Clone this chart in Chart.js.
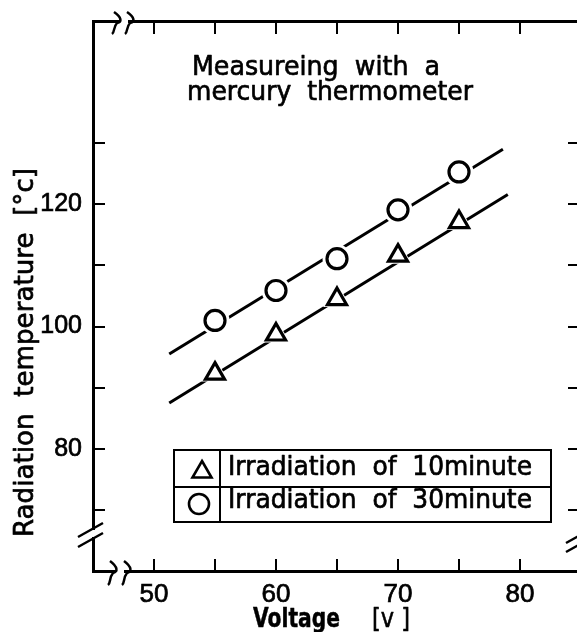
<!DOCTYPE html>
<html><head><meta charset="utf-8">
<script src="https://cdn.jsdelivr.net/npm/chart.js@4/dist/chart.umd.min.js"></script>
<style>
html,body{margin:0;padding:0;background:#fff;overflow:hidden;width:577px;height:632px}
#wrap{width:590px;height:632px;}
canvas{display:block}
</style></head><body><div id="wrap"><canvas id="c" width="590" height="632"></canvas></div>
<script>
// ---- data ----
const voltages = [55, 60, 65, 70, 75];
const temp10min = [92.3, 98.7, 104.5, 111.6, 117.1];
const temp30min = [101.0, 105.9, 111.1, 119.1, 125.3];
const fit10minX = [51.25, 79.0];
const fit10minY = [87.5, 121.6];
const fit30minX = [51.25, 78.6];
const fit30minY = [95.5, 129.0];
const xTickLabels = [50, 60, 70, 80];
const yTickLabels = [80, 100, 120];
const xTickMarks = [50, 55, 60, 65, 70, 75, 80];
const yTickMarks = [70, 80, 90, 100, 110, 120, 130];
const seriesLabels = ['Irradiation  of  10minute', 'Irradiation  of  30minute'];
const titleLines = ['Measureing  with  a', 'mercury  thermometer'];
const xTitle = 'Voltage';
const xUnit = '[v ]';
const yTitle = 'Radiation  temperature  [°c]';

const pts = (xs, ys) => xs.map((x, i) => ({x: x, y: ys[i]}));
const BLACK = '#000';
const TXT = '"DejaVu Sans", sans-serif';

function fitText(ctx, text, left, baseline, width, font, stroke) {
  ctx.save();
  ctx.font = font;
  const w = ctx.measureText(text).width;
  ctx.translate(left, baseline);
  ctx.scale(width / w, 1);
  ctx.textAlign = 'left';
  ctx.textBaseline = 'alphabetic';
  ctx.fillStyle = BLACK;
  ctx.fillText(text, 0, 0);
  if (stroke) {
    ctx.strokeStyle = BLACK;
    ctx.lineWidth = stroke;
    ctx.lineJoin = 'round';
    ctx.strokeText(text, 0, 0);
  }
  ctx.restore();
}

function squiggle(ctx, x, y, h) {
  ctx.beginPath();
  ctx.moveTo(x - 3, y - h);
  ctx.bezierCurveTo(x + 5, y - h * 0.5, x + 5, y - h * 0.1, x, y);
  ctx.bezierCurveTo(x - 4, y + h * 0.4, x - 2, y + h * 0.8, x - 5, y + h);
  ctx.stroke();
}

const decor = {
  id: 'decor',
  afterDatasetsDraw(chart) {
    const ctx = chart.ctx;
    const xs = chart.scales.x, ys = chart.scales.y;
    const a = chart.chartArea;
    ctx.save();
    ctx.strokeStyle = BLACK;
    ctx.lineCap = 'butt';
    // inward ticks
    ctx.lineWidth = 2;
    ctx.beginPath();
    xTickMarks.forEach(v => {
      const px = Math.round(xs.getPixelForValue(v));
      ctx.moveTo(px, a.bottom); ctx.lineTo(px, a.bottom - 12);
      ctx.moveTo(px, a.top); ctx.lineTo(px, a.top + 13);
    });
    yTickMarks.forEach(v => {
      const py = Math.round(ys.getPixelForValue(v));
      ctx.moveTo(a.left, py); ctx.lineTo(a.left + 12, py);
      ctx.moveTo(a.right, py); ctx.lineTo(a.right - 13, py);
    });
    ctx.stroke();

    // axis breaks
    ctx.fillStyle = '#fff';
    ctx.fillRect(119, a.top - 3, 9, 6);
    ctx.fillRect(115, a.bottom - 3, 9, 6);
    ctx.fillRect(a.left - 3, 530, 6, 7);
    ctx.lineWidth = 2.5;
    squiggle(ctx, 117, a.top + 2, 11);
    squiggle(ctx, 130, a.top + 2, 11);
    squiggle(ctx, 113, a.bottom + 2, 12);
    squiggle(ctx, 127, a.bottom + 2, 12);
    ctx.beginPath();
    ctx.moveTo(78, 537); ctx.lineTo(103, 523);
    ctx.moveTo(78, 547); ctx.lineTo(103, 533);
    ctx.moveTo(566, 543); ctx.lineTo(584, 533);
    ctx.moveTo(566, 552); ctx.lineTo(584, 542);
    ctx.stroke();

    // title text
    fitText(ctx, titleLines[0], 192, 75, 248, '27px ' + TXT, 0.7);
    fitText(ctx, titleLines[1], 187, 100, 286, '27px ' + TXT, 0.7);

    // legend table
    ctx.lineWidth = 2;
    ctx.strokeRect(174, 450, 377, 72);
    ctx.beginPath();
    ctx.moveTo(174, 487); ctx.lineTo(551, 487);
    ctx.moveTo(220, 450); ctx.lineTo(220, 522);
    ctx.stroke();
    ctx.lineWidth = 2.6;
    const tr = 11, tcx = 202, tcy = 472;
    ctx.beginPath();
    ctx.moveTo(tcx, tcy - tr);
    ctx.lineTo(tcx + tr * Math.cos(Math.PI / 6), tcy + tr / 2);
    ctx.lineTo(tcx - tr * Math.cos(Math.PI / 6), tcy + tr / 2);
    ctx.closePath();
    ctx.stroke();
    ctx.beginPath();
    ctx.arc(199, 504, 10, 0, Math.PI * 2);
    ctx.stroke();
    fitText(ctx, seriesLabels[0], 228, 475, 304, '27px ' + TXT, 0.7);
    fitText(ctx, seriesLabels[1], 228, 508, 304, '27px ' + TXT, 0.7);

    // axis titles
    fitText(ctx, xTitle, 253, 627, 87, 'bold 26px ' + TXT, 0.5);
    fitText(ctx, xUnit, 372, 627, 38, '26px ' + TXT, 0.6);
    ctx.save();
    ctx.translate(33, 537);
    ctx.rotate(-Math.PI / 2);
    fitText(ctx, yTitle, 0, 0, 369, '27px ' + TXT, 0.7);
    ctx.restore();
    ctx.restore();
  }
};

const axisCommon = {
  grid: {display: false, drawTicks: false, tickLength: 0},
  border: {display: true, color: BLACK, width: 3}
};
const noPad = s => { s.paddingTop = 0; s.paddingBottom = 0; s.paddingLeft = 0; s.paddingRight = 0; };
const tickFont = size => ({family: '"Liberation Sans", sans-serif', size: size});

new Chart(document.getElementById('c'), {
  type: 'scatter',
  data: {
    datasets: [
      {label: 'fit30', data: pts(fit30minX, fit30minY), showLine: true, pointRadius: 0,
       borderColor: BLACK, borderWidth: 3, order: 3},
      {label: 'fit10', data: pts(fit10minX, fit10minY), showLine: true, pointRadius: 0,
       borderColor: BLACK, borderWidth: 3, order: 3},
      {label: 'halo30', data: pts(voltages, temp30min), pointStyle: 'circle', pointRadius: 14.5,
       backgroundColor: '#fff', borderWidth: 0, borderColor: '#fff', order: 2},
      {label: 'halo10', data: pts(voltages, temp10min), pointStyle: 'triangle', pointRadius: 16,
       backgroundColor: '#fff', borderWidth: 0, borderColor: '#fff', order: 2},
      {label: seriesLabels[1], data: pts(voltages, temp30min), pointStyle: 'circle', pointRadius: 10,
       backgroundColor: '#fff', borderColor: BLACK, borderWidth: 3.2, order: 0},
      {label: seriesLabels[0], data: pts(voltages, temp10min), pointStyle: 'triangle', pointRadius: 11,
       backgroundColor: '#fff', borderColor: BLACK, borderWidth: 3.2, order: 0}
    ]
  },
  options: {
    responsive: false,
    animation: false,
    devicePixelRatio: 1,
    layout: {padding: 0, autoPadding: false},
    plugins: {legend: {display: false}, tooltip: {enabled: false}},
    scales: {
      x: Object.assign({}, axisCommon, {
        type: 'linear', position: 'bottom', min: 45, max: 85,
        ticks: {stepSize: 5, autoSkip: false, maxRotation: 0, color: BLACK, padding: 8,
          textStrokeColor: BLACK, textStrokeWidth: 0.7, font: tickFont(26),
          callback: v => xTickLabels.includes(v) ? String(v) : null},
        afterFit: s => { s.height = 61; noPad(s); }
      }),
      xTop: Object.assign({}, axisCommon, {
        type: 'linear', position: 'top', min: 45, max: 85,
        ticks: {display: false},
        afterFit: s => { s.height = 21; noPad(s); }
      }),
      y: Object.assign({}, axisCommon, {
        type: 'linear', position: 'left', min: 60, max: 150,
        ticks: {stepSize: 10, autoSkip: false, color: BLACK, padding: 11,
          textStrokeColor: BLACK, textStrokeWidth: 0.7, font: tickFont(25),
          callback: v => yTickLabels.includes(v) ? String(v) : null},
        afterFit: s => { s.width = 93; noPad(s); }
      }),
      yRight: {
        type: 'linear', position: 'right', min: 60, max: 150,
        grid: {display: false, drawTicks: false, tickLength: 0},
        border: {display: false},
        ticks: {display: false},
        afterFit: s => { s.width = 9; noPad(s); }
      }
    }
  },
  plugins: [decor]
});
</script>
</body></html>
